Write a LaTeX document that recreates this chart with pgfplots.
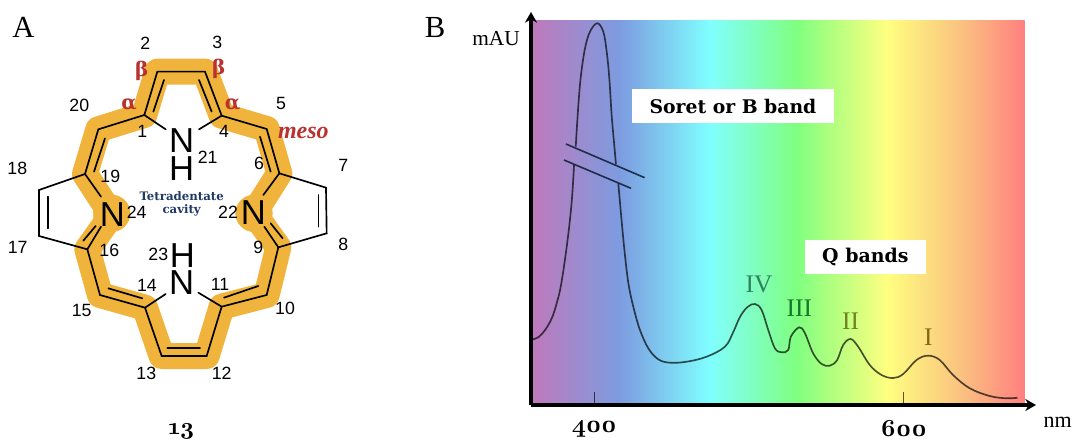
\documentclass[border=0pt]{standalone}
\usepackage{pgfplots}
\pgfplotsset{compat=1.18}
\usepackage{fontspec}
\usetikzlibrary{arrows.meta}
\setmainfont{Liberation Sans}
\newfontfamily\serifr{Liberation Serif}
\newfontfamily\geo{DejaVu Serif}
\newfontfamily\oldnum[Numbers=OldStyle,LetterSpace=-3]{lmroman10-bold.otf}
\definecolor{band}{RGB}{240,180,60}
\definecolor{lab}{RGB}{184,50,47}
\definecolor{navy}{RGB}{31,56,100}
\pgfdeclarehorizontalshading{spectrum}{100bp}{rgb(0bp)=(.745,.478,.737); rgb(25bp)=(.745,.478,.737); rgb(33.84bp)=(.49,.61,.88); rgb(43bp)=(.5,1,1); rgb(51.83bp)=(.5,1,.5); rgb(60.98bp)=(1,1,.5); rgb(68.4bp)=(.98,.765,.5); rgb(75bp)=(1,.5,.5); rgb(100bp)=(1,.5,.5)}
\pgfplotstableread{
x y
360.2 65.7
363.8 67.7
368.2 75
372.5 86.7
375.7 101.7
378.7 121.7
382.6 163.3
385.4 203.3
386.9 240
}\lowerleft
\pgfplotstableread{
x y
388 258.3
389.7 300
391.4 330
394 356.7
397.2 373.3
401.9 381.7
405.8 373.3
408 353.3
409.7 326.7
411.2 290
412.7 263.3
414 240.7
}\upperpart
\pgfplotstableread{
x y
415.5 221.7
417.7 183.3
419.8 150
422.1 121
425.2 98.3
429.5 75
434.9 56.7
441.3 45.7
448.9 42.3
459.7 43.3
472.6 48.3
484.4 58.3
489.8 73
494.1 88
499 98
503.8 101
508.1 95
512.4 75
516.7 56.7
521 52.7
525.3 55
527 68.3
532.4 77.7
536.1 71.7
541.4 51.7
546.9 41
552.2 39.3
556.9 45
560.8 60
565.6 66
570.5 58.3
578 40
585.6 30
593.1 27
599.6 31
608.2 45
615.7 49.3
623.2 45
631.8 30
642.6 16.7
655.5 9
666.3 6.7
673.4 7.3
}\lowerright
\newcommand{\numl}[3]{\node[font=\fontsize{13.3}{14}\selectfont,inner sep=0pt] at (axis cs:#1,#2){#3};}
\newcommand{\atom}[3]{\node[font=\fontsize{26}{26}\selectfont,inner sep=0pt] at (axis cs:#1,#2){#3};}
\pgfplotsset{over/.style={at={(0pt,0pt)},anchor=south west,scale only axis,width=805.5pt,height=331.5pt,
 xmin=0,xmax=3222,ymin=0,ymax=1326,y dir=reverse,hide axis,clip=false},
 curve/.style={black,opacity=.68,line width=1.25pt,smooth,tension=.6,no marks},
 brk/.style={navy!60!black,opacity=.9,line width=1.2pt,no marks}}
\begin{document}
\begin{tikzpicture}[x=1pt,y=1pt]
\path[use as bounding box] (0,0) rectangle (805.5pt,331.5pt);
% panel B
\begin{axis}[at={(398.25pt,27.75pt)},anchor=origin,scale only axis,width=378.75pt,height=294.75pt,
 xmin=359.1,xmax=685.4,ymin=0,ymax=393,axis lines=left,axis on top,clip=false,
 axis line style={line width=2.4pt,-{Stealth[length=8pt,width=9pt]}},
 xtick={400,600},xticklabels={{\oldnum 400},{\oldnum 600}},ytick=\empty,
 x tick label style={font=\fontsize{18.5}{18.5}\selectfont,yshift=-8pt},
 tick align=inside,major tick length=10pt,
 x tick style={line width=.9pt,color=black,opacity=.65}]
\addplot[draw=none,shade,shading=spectrum] coordinates {(360.4,1)(678.1,1)(678.1,384)(360.4,384)} --cycle;
\addplot[curve] table[x=x,y=y]{\lowerleft};
\addplot[curve] table[x=x,y=y]{\upperpart};
\addplot[curve] table[x=x,y=y]{\lowerright};
\addplot[brk] coordinates {(381.7,261)(432.5,227.3)};
\addplot[brk] coordinates {(380.4,245)(423.7,216.7)};
\end{axis}
% orange band under everything
\begin{axis}[over]
\addplot[band,line width=19.5pt,line join=round,no marks] coordinates {(433,345)(472,215)(615,215)(665,347)(800,387)(838,520)(762,640)(835,742)(800,885)(665,920)(620,1068)(485,1068)(435,923)(300,885)(262,748)(335,645)(255,522)(295,388)} --cycle;
\addplot[band,only marks,mark=*,mark size=13.75pt] coordinates {(335,640)(762,640)};
\end{axis}
% skeleton and texts in 3x pixel units
\begin{axis}[over]
\pgfplotsset{skel/.style={black,line width=1.25pt,no marks,line cap=round,line join=miter}}
\addplot[skel] coordinates {(497,388)(433,345)(472,215)(615,215)(665,347)(597,388)};
\addplot[skel] coordinates {(665,347)(800,387)(838,520)(790,585)};
\addplot[skel] coordinates {(838,520)(978,563)(980,700)(835,742)(793,680)};
\addplot[skel] coordinates {(835,742)(800,885)(665,920)(595,878)};
\addplot[skel] coordinates {(665,920)(620,1068)(485,1068)(435,923)(497,882)};
\addplot[skel] coordinates {(435,923)(300,885)(262,748)(303,680)};
\addplot[skel] coordinates {(262,748)(117,708)(117,570)(255,522)(303,590)};
\addplot[skel] coordinates {(255,522)(295,388)(433,345)};
\addplot[skel] coordinates {(460,335)(492,240)};
\addplot[skel] coordinates {(597,240)(635,335)};
\addplot[skel] coordinates {(780,410)(812,515)};
\addplot[skel] coordinates {(955,585)(955,680)};
\addplot[skel] coordinates {(848,715)(812,670)};
\addplot[skel] coordinates {(775,858)(672,893)};
\addplot[skel] coordinates {(600,1043)(502,1043)};
\addplot[skel] coordinates {(427,895)(325,865)};
\addplot[skel] coordinates {(250,722)(287,678)};
\addplot[skel] coordinates {(143,590)(143,685)};
\addplot[skel] coordinates {(282,515)(315,415)};
\atom{545}{422}{N}\atom{545}{506}{H}\atom{337}{645}{N}\atom{760}{637}{N}\atom{547}{767}{H}\atom{545}{848}{N}
\numl{436}{130}{2}\numl{652}{127}{3}\numl{238}{317}{20}\numl{843}{310}{5}\numl{427}{395}{1}\numl{672}{393}{4}
\numl{623}{473}{21}\numl{777}{490}{6}\numl{1030}{495}{7}\numl{52}{505}{18}\numl{331}{528}{19}\numl{410}{637}{24}
\numl{684}{637}{22}\numl{328}{750}{16}\numl{775}{741}{9}\numl{53}{742}{17}\numl{1030}{733}{8}\numl{475}{763}{23}
\numl{441}{857}{14}\numl{660}{853}{11}\numl{245}{930}{15}\numl{855}{925}{10}\numl{439}{1120}{13}\numl{665}{1120}{12}
\node[font=\geo\bfseries\fontsize{15}{15}\selectfont,text=lab,inner sep=0pt] at (axis cs:425,213){β};
\node[font=\geo\bfseries\fontsize{15}{15}\selectfont,text=lab,inner sep=0pt] at (axis cs:656,207){β};
\node[font=\geo\bfseries\fontsize{15}{15}\selectfont,text=lab,inner sep=0pt] at (axis cs:387,315){α};
\node[font=\geo\bfseries\fontsize{15}{15}\selectfont,text=lab,inner sep=0pt] at (axis cs:698,315){α};
\node[font=\serifr\bfseries\itshape\fontsize{18}{18}\selectfont,text=lab,inner sep=0pt] at (axis cs:910,398){meso};
\node[font=\geo\bfseries\fontsize{8.8}{8.8}\selectfont,text=navy,inner sep=0pt] at (axis cs:545,587){Tetradentate};
\node[font=\geo\bfseries\fontsize{8.8}{8.8}\selectfont,text=navy,inner sep=0pt] at (axis cs:545,632){cavity};
\node[font=\oldnum\fontsize{18}{18}\selectfont,inner sep=0pt] at (axis cs:545,1295){13};
\node[font=\serifr\fontsize{23}{23}\selectfont,inner sep=0pt] at (axis cs:70,83){A};
\node[font=\serifr\fontsize{23}{23}\selectfont,inner sep=0pt] at (axis cs:1305,82){B};
\node[font=\serifr\fontsize{16}{16}\selectfont,inner sep=0pt] at (axis cs:1488,115){mAU};
\node[font=\serifr\fontsize{16.5}{16.5}\selectfont,inner sep=0pt] at (axis cs:3173,1268){nm};
\node[fill=white,inner sep=0pt,minimum width=151.5pt,minimum height=25.2pt,font=\geo\bfseries\fontsize{14.1}{14.1}\selectfont] at (axis cs:2199,318){Soret or B band};
\node[fill=white,inner sep=0pt,minimum width=90.7pt,minimum height=25.5pt,font=\geo\bfseries\fontsize{14.2}{14.2}\selectfont] at (axis cs:2596,771){Q bands};
\node[font=\serifr\fontsize{19}{19}\selectfont,text={rgb,255:red,45;green,130;blue,100},inner sep=0pt] at (axis cs:2277,853){IV};
\node[font=\serifr\fontsize{19}{19}\selectfont,text={rgb,255:red,20;green,120;blue,40},inner sep=0pt] at (axis cs:2398,925){III};
\node[font=\serifr\fontsize{19}{19}\selectfont,text={rgb,255:red,110;green,130;blue,30},inner sep=0pt] at (axis cs:2552,965){II};
\node[font=\serifr\fontsize{19}{19}\selectfont,text={rgb,255:red,140;green,100;blue,20},inner sep=0pt] at (axis cs:2785,1012){I};
\end{axis}
\end{tikzpicture}
\end{document}
